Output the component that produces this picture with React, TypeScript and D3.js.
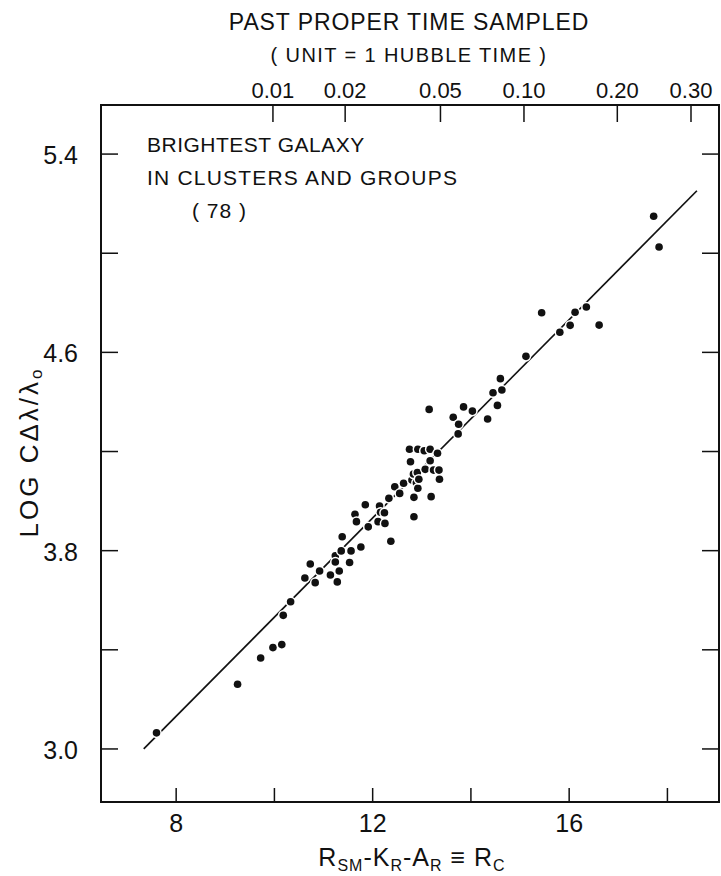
import React from 'react';
import * as d3 from 'd3';

// Apparent magnitude R_c (x) and log cz (y) of the brightest cluster galaxies
const magnitudes = [
  7.60, 9.25, 9.72, 9.97, 10.15, 10.18, 10.33, 10.62, 10.73, 10.83,
  10.92, 11.14, 11.24, 11.24, 11.28, 11.32, 11.36, 11.38, 11.53, 11.56,
  11.64, 11.67, 11.76, 11.85, 11.91, 12.11, 12.14, 12.16, 12.24, 12.25,
  12.33, 12.37, 12.45, 12.55, 12.63, 12.75, 12.77, 12.80, 12.83, 12.84,
  12.84, 12.89, 12.91, 12.92, 12.92, 12.94, 13.05, 13.07, 13.15, 13.17,
  13.17, 13.19, 13.24, 13.32, 13.35, 13.36, 13.64, 13.74, 13.75, 13.85,
  14.03, 14.34, 14.45, 14.54, 14.60, 14.63, 15.12, 15.44, 15.81, 16.02,
  16.12, 16.35, 16.61, 17.72, 17.83,
];
const logVelocities = [
  3.065, 3.261, 3.367, 3.409, 3.421, 3.539, 3.594, 3.690, 3.746, 3.671,
  3.718, 3.702, 3.779, 3.754, 3.674, 3.718, 3.799, 3.856, 3.752, 3.799,
  3.947, 3.917, 3.815, 3.985, 3.896, 3.917, 3.980, 3.955, 3.953, 3.910,
  4.011, 3.838, 4.058, 4.031, 4.072, 4.209, 4.159, 4.085, 4.109, 4.015,
  3.937, 4.074, 4.115, 4.209, 4.052, 4.088, 4.203, 4.128, 4.370, 4.163,
  4.209, 4.018, 4.125, 4.193, 4.125, 4.088, 4.338, 4.271, 4.310, 4.380,
  4.363, 4.331, 4.437, 4.386, 4.494, 4.448, 4.584, 4.760, 4.681, 4.709,
  4.762, 4.783, 4.710, 5.149, 5.025,
];

// Fitted line log cz = 0.2 R + b
const fitStartEnd = [7.34, 18.6];
const fitSlope = 0.2;
const fitIntercept = 1.532;

// Axes
const yTicks = [3.0, 3.4, 3.8, 4.2, 4.6, 5.0, 5.4];
const yTickLabels = ['3.0', '', '3.8', '', '4.6', '', '5.4'];
const xTicks = [8, 10, 12, 14, 16, 18];
const xTickLabels = ['8', '', '12', '', '16', ''];
const timeTickLabels = ['0.01', '0.02', '0.05', '0.10', '0.20', '0.30'];
const timeTickMagnitudes = [9.97, 11.44, 13.38, 15.08, 16.98, 18.48];

const xDomain = [6.47, 19.05];
const yDomain = [2.786, 5.598];

export default function App() {
  const W = 721;
  const H = 876;
  const left = 101;
  const right = 719;
  const top = 105;
  const bottom = 802;
  const x = d3.scaleLinear().domain(xDomain).range([left, right]);
  const y = d3.scaleLinear().domain(yDomain).range([bottom, top]);
  const font = "'Liberation Sans', Arial, sans-serif";
  const ink = '#111';

  const line = d3
    .line<number>()
    .x((d) => x(d))
    .y((d) => y(fitSlope * d + fitIntercept));

  const pts = magnitudes.map((m, i) => ({ m, v: logVelocities[i] }));

  return (
    <svg
      width={W}
      height={H}
      style={{ position: 'absolute', left: 0, top: 0, background: '#fff' }}
      fontFamily={font}
    >
      <rect x={0} y={0} width={W} height={H} fill="#fff" />
      {/* titles */}
      <text x={409} y={30} fontSize={23} textAnchor="middle" fill={ink} letterSpacing={0.9}>
        PAST PROPER TIME SAMPLED
      </text>
      <text x={409} y={62} fontSize={20} textAnchor="middle" fill={ink} letterSpacing={1.4}>
        ( UNIT = 1 HUBBLE TIME )
      </text>

      {/* fit line */}
      <path d={line(fitStartEnd) || ''} stroke={ink} strokeWidth={1.7} fill="none" />

      {/* points */}
      {pts.map((p, i) => (
        <circle
          key={i}
          cx={x(p.m)}
          cy={y(p.v)}
          r={3.8}
          fill={ink}
          stroke="#fff"
          strokeWidth={3}
          paintOrder="stroke"
        />
      ))}

      {/* frame */}
      <rect x={left} y={top} width={right - left} height={bottom - top} fill="none" stroke={ink} strokeWidth={2} />

      {/* y ticks left & right */}
      {yTicks.map((t, i) => (
        <g key={'y' + i}>
          <line x1={left} x2={left + 17} y1={y(t)} y2={y(t)} stroke={ink} strokeWidth={1.5} />
          <line x1={right} x2={right - 17} y1={y(t)} y2={y(t)} stroke={ink} strokeWidth={1.5} />
          {yTickLabels[i] && (
            <text x={78} y={y(t) + 10} fontSize={25} textAnchor="end" fill={ink}>
              {yTickLabels[i]}
            </text>
          )}
        </g>
      ))}

      {/* x ticks bottom */}
      {xTicks.map((t, i) => (
        <g key={'x' + i}>
          <line x1={x(t)} x2={x(t)} y1={bottom} y2={bottom - 14} stroke={ink} strokeWidth={1.5} />
          {xTickLabels[i] && (
            <text x={x(t)} y={832} fontSize={25} textAnchor="middle" fill={ink}>
              {xTickLabels[i]}
            </text>
          )}
        </g>
      ))}

      {/* top time ticks */}
      {timeTickMagnitudes.map((t, i) => (
        <g key={'t' + i}>
          <line x1={x(t)} x2={x(t)} y1={top} y2={top + 17} stroke={ink} strokeWidth={1.5} />
          <text x={x(t)} y={98} fontSize={22} textAnchor="middle" fill={ink}>
            {timeTickLabels[i]}
          </text>
        </g>
      ))}

      {/* annotation */}
      <text x={147} y={152} fontSize={21} fill={ink} letterSpacing={0.5}>BRIGHTEST GALAXY</text>
      <text x={147} y={185} fontSize={21} fill={ink} letterSpacing={1.2}>IN CLUSTERS AND GROUPS</text>
      <text x={192} y={218} fontSize={21} fill={ink} letterSpacing={1}>( 78 )</text>

      {/* y axis label */}
      <text
        transform="translate(38,452) rotate(-90)"
        fontSize={26}
        textAnchor="middle"
        fill={ink}
        letterSpacing={3}
      >
        LOG CΔλ/λ<tspan fontSize={17} dy={4}>o</tspan>
      </text>

      {/* x axis label */}
      <text x={412} y={866} fontSize={25} textAnchor="middle" fill={ink} letterSpacing={1}>
        R<tspan fontSize={16} dy={5}>SM</tspan>
        <tspan dy={-5}>-K</tspan>
        <tspan fontSize={16} dy={5}>R</tspan>
        <tspan dy={-5}>-A</tspan>
        <tspan fontSize={16} dy={5}>R</tspan>
        <tspan dy={-5}> ≡ R</tspan>
        <tspan fontSize={16} dy={5}>C</tspan>
      </text>
    </svg>
  );
}
